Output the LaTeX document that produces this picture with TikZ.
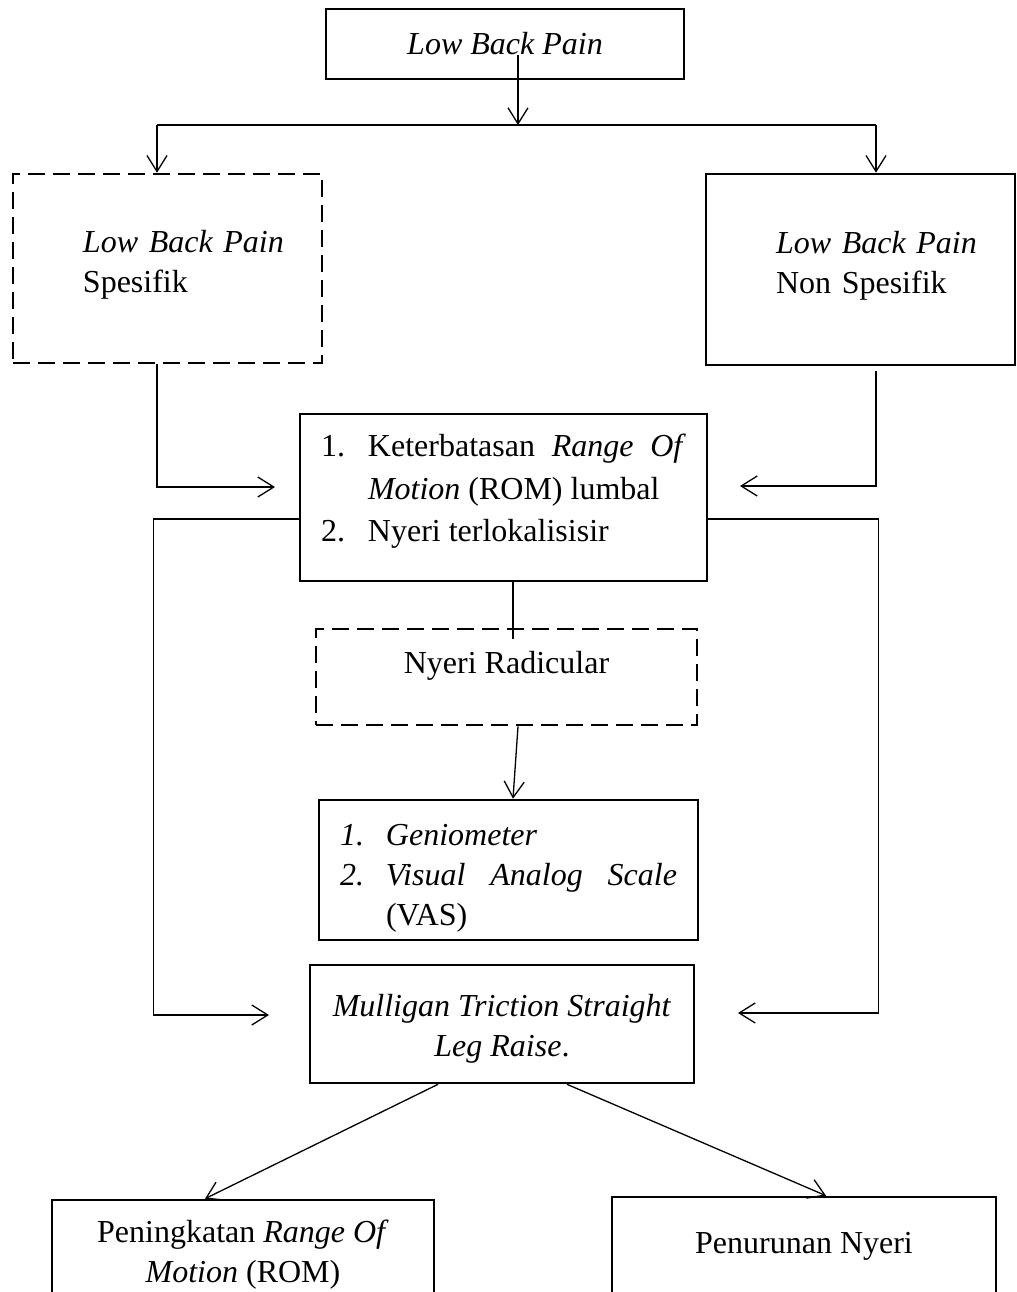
\documentclass[tikz,border=0pt]{standalone}
\usepackage{fontspec}
\setmainfont{Liberation Serif}
\usetikzlibrary{arrows.meta}

\tikzset{
  box/.style={draw, line width=1.3pt, inner sep=0pt, font=\fontsize{16}{20}\selectfont},
  dbox/.style={box, dash pattern=on 8.5pt off 4pt},
  arr/.style={line width=0.65pt, -{Straight Barb[length=8pt,width=10pt]}},
  ln/.style={line width=0.65pt}
}

\begin{document}
\begin{tikzpicture}[x=0.5pt,y=-0.5pt]
    \useasboundingbox (0,0) rectangle (1017,1292);
    \coordinate (s0) at (518,55);
    \coordinate (bl) at (157,125);
    \coordinate (br) at (876,125);
    \coordinate (inL) at (275,487);
    \coordinate (inR) at (740,486);
    \coordinate (mL) at (269,1015);
    \coordinate (mR) at (738,1013);
      \node [box, minimum width=179pt, minimum height=35pt] (lbp) at (505,44)
        {\textit{Low Back Pain}};
      \node [dbox, minimum width=154.5pt, minimum height=94.5pt, text width=154.5pt, align=left] (lbps) at (167.5,268.5)
        {\hspace*{35pt}\textit{Low Back Pain}\\\hspace*{35pt}Spesifik\rule[-7.5pt]{0pt}{0pt}};
      \node [box, minimum width=154.5pt, minimum height=95.5pt, text width=154.5pt, align=left] (lbpns) at (860.5,269.5)
        {\hspace*{35pt}\textit{Low Back Pain}\\\hspace*{35pt}Non Spesifik\rule[-7.5pt]{0pt}{0pt}};
      \node [box, minimum width=203.5pt, minimum height=83.5pt] (rom) at (503.5,497.5)
        {\begin{tabular}{@{}p{23.5pt}@{}p{159pt}@{}}
          1. & Keterbatasan\hfill\textit{Range}\hfill\textit{Of}\\[1.25pt]
           & \textit{Motion} (ROM) lumbal\\[1.25pt]
          2.\rule[-12.5pt]{0pt}{0pt} & Nyeri terlokalisisir
        \end{tabular}};
      \node [dbox, minimum width=190.5pt, minimum height=48pt] (rad) at (506.5,677)
        {\raisebox{1.9pt}[0pt][0pt]{Nyeri Radicular}};
      \node [box, minimum width=189.5pt, minimum height=70pt] (alat) at (508.5,870)
        {\begin{tabular}{@{}p{23pt}@{}p{145.5pt}@{}}
          \rule{0pt}{21pt}\textit{1.} & \textit{Geniometer}\\
          \textit{2.} & \textit{Visual}\hfill\textit{Analog}\hfill\textit{Scale}\\
           & (VAS)
        \end{tabular}};
      \node [box, minimum width=192pt, minimum height=59pt, align=center] (mtslr) at (502,1024)
        {\rule{0pt}{16pt}\textit{Mulligan Triction Straight}\\\textit{Leg Raise}.};
      \node [box, minimum width=191pt, minimum height=55pt, align=center] (rom2) at (243,1255)
        {Peningkatan \textit{Range Of}\\\textit{Motion} (ROM)};
      \node [box, minimum width=192pt, minimum height=56.5pt] (nyeri) at (804,1253.5)
        {\raisebox{0pt}[0pt][0pt]{Penurunan Nyeri}};
      \draw [arr] (s0) -- (s0 |- bl);
      \draw [ln] (bl) -- (br);
      \draw [arr] (bl) -- (bl |- lbps.north);
      \draw [arr] (br) -- (br |- lbpns.north);
      \draw [arr] (bl |- lbps.south) |- (inL);
      \draw [arr] ([yshift=-2.5pt]br |- lbpns.south) |- (inR);
      \draw [arr] ([yshift=-10.75pt]rom.west) -- ++(-145,0) |- (mL);
      \draw [arr] ([yshift=-10.75pt]rom.east) -- ++(170,0) |- (mR);
      \draw [ln] ([xshift=4.75pt]rom.south) -- ++(0,57);
      \draw [arr] ([xshift=5.75pt]rad.south)
        -- ([xshift=2.25pt]alat.north);
      \draw [arr] ([xshift=-32pt]mtslr.south)
        -- ([xshift=-19pt]rom2.north);
      \draw [arr] ([xshift=32.5pt]mtslr.south)
        -- ([xshift=11pt]nyeri.north);
  \end{tikzpicture}
\end{document}
